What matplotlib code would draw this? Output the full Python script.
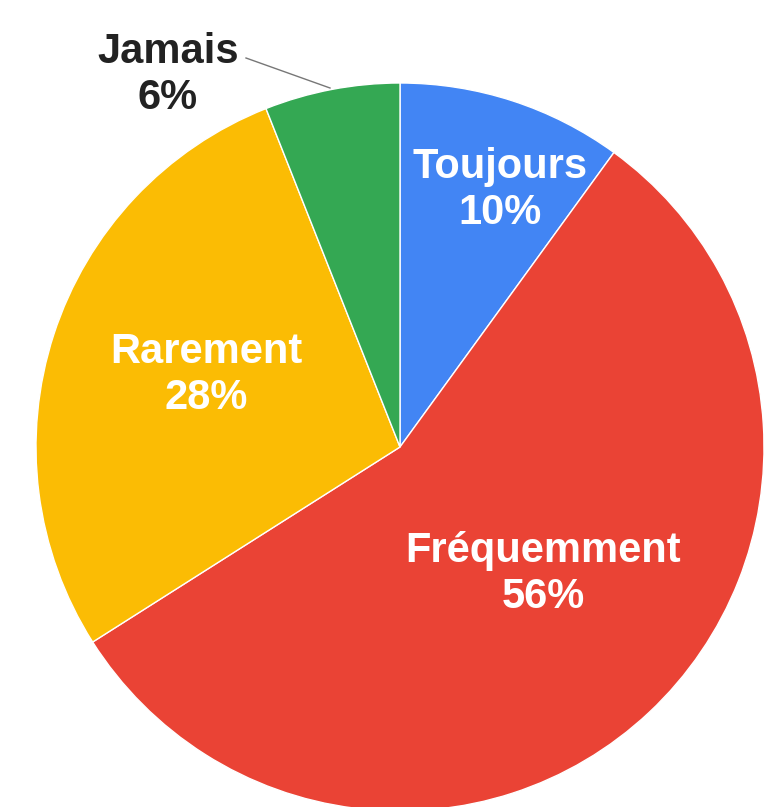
import matplotlib.pyplot as plt

# parts of the pie, clockwise from the top
labels = ["Toujours", "Fréquemment", "Rarement", "Jamais"]
values = [10, 56, 28, 6]
colors = ["#4285F4", "#EA4335", "#FBBC04", "#34A853"]

fig = plt.figure(figsize=(7.69, 8.07), dpi=100)
ax = fig.add_axes([0, 0, 1, 1])

# pie center / radius in pixel units (y going up)
cx, cy, r = 400, 807 - 447, 364
ax.pie(values, colors=colors, startangle=90, counterclock=False,
       center=(cx, cy), radius=r,
       wedgeprops=dict(edgecolor="white", linewidth=1))
ax.set_xlim(0, 769)
ax.set_ylim(0, 807)
ax.set_aspect("equal")
ax.axis("off")

plt.rcParams["font.family"] = ["Liberation Sans", "DejaVu Sans"]
fs = 30

# label offsets from the pie center (google charts style placement)
offs = {"Toujours": (100, 257), "Fréquemment": (143, -127), "Rarement": (-194, 72)}
for lab, v in zip(labels, values):
    if lab in offs:
        dx, dy = offs[lab]
        ax.text(cx + dx, cy + dy, f"{lab}\n{v}%", color="white", fontsize=fs,
                fontweight="bold", ha="center", va="center", linespacing=1.2)

# the small slice gets an outside label with a leader line
ax.text(168, 807 - 75, f"{labels[3]}\n{values[3]}%", color="#222222", fontsize=fs,
        fontweight="bold", ha="center", va="center", linespacing=1.2)
ax.plot([246, 330], [807 - 58, 807 - 88], color="#777777", lw=1)

fig.savefig("out.png", dpi=100)
